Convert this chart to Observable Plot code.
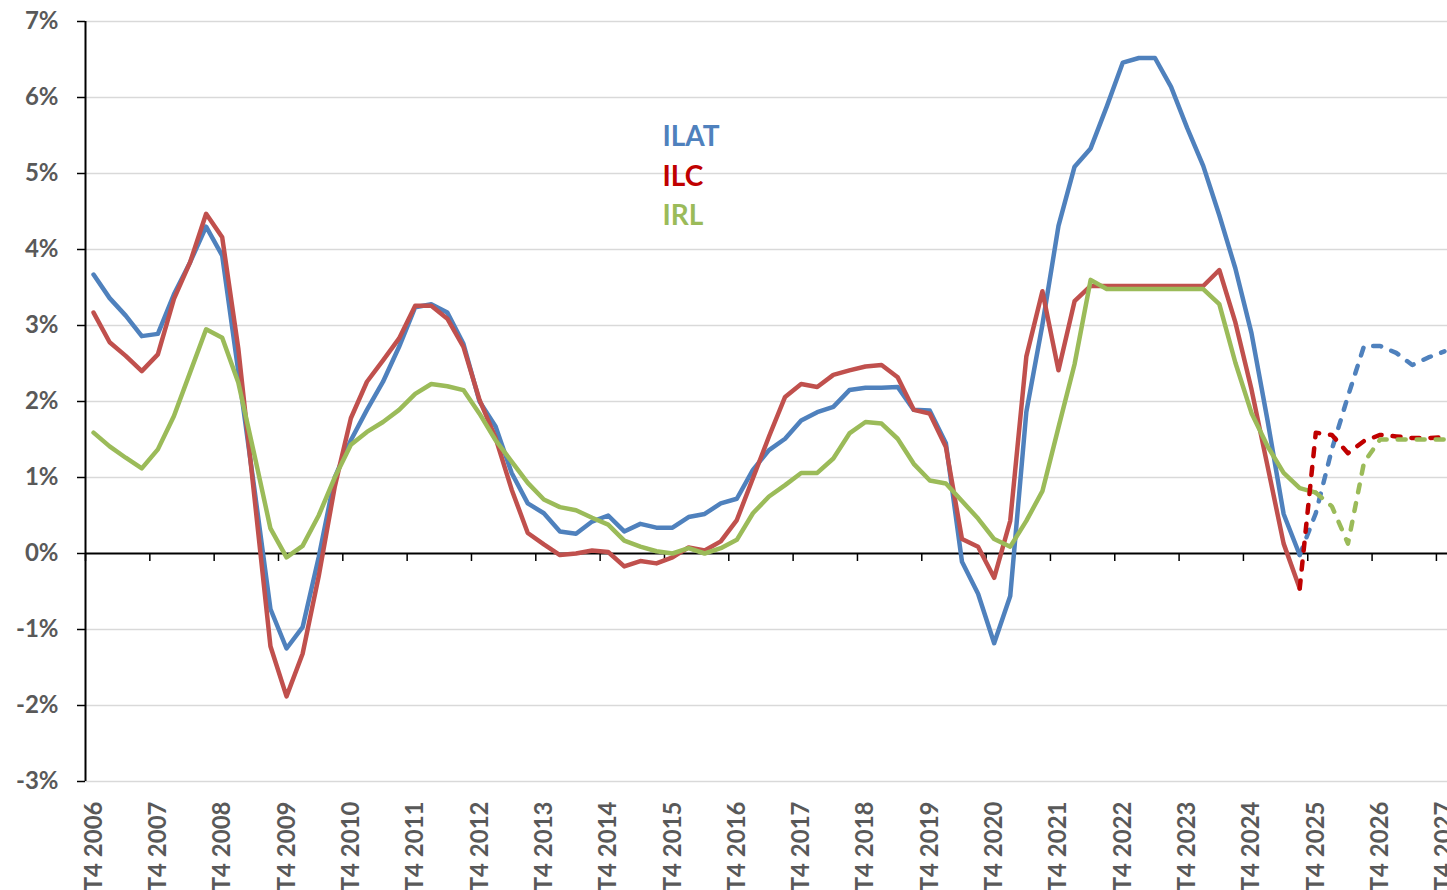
<!DOCTYPE html>
<html>
<head>
<meta charset="utf-8">
<script src="https://cdn.jsdelivr.net/npm/d3@7"></script>
<script src="https://cdn.jsdelivr.net/npm/@observablehq/plot@0.6"></script>
<style>
  html, body { margin: 0; padding: 0; overflow: hidden; background: #fff; }
  #chart { width: 1460px; }
</style>
</head>
<body>
<div id="chart"></div>
<script>
// ---- Categories (quarters, T4 2006 ... T4 2027) ----
const quarters = ["T4 2006"];
for (let y = 2007; y <= 2027; y++) for (let q = 1; q <= 4; q++) quarters.push(`T${q} ${y}`);

// ---- Tick labels ----
const tickLabels = ["T4 2006","T4 2007","T4 2008","T4 2009","T4 2010","T4 2011","T4 2012",
  "T4 2013","T4 2014","T4 2015","T4 2016","T4 2017","T4 2018","T4 2019","T4 2020","T4 2021",
  "T4 2022","T4 2023","T4 2024","T4 2025","T4 2026","T4 2027"];
const yTicks = [-3, -2, -1, 0, 1, 2, 3, 4, 5, 6, 7];

// ---- Series (% y/y), observed, starting at T4 2006 ----
const ilat = [3.67,3.36,3.13,2.86,2.89,3.41,3.83,4.30,3.92,2.40,
  0.85,-0.73,-1.25,-0.97,-0.05,1.00,1.49,1.89,2.26,2.72,
  3.24,3.28,3.17,2.76,2.00,1.67,1.06,0.66,0.53,0.29,
  0.26,0.42,0.50,0.29,0.39,0.34,0.34,0.48,0.52,0.66,
  0.72,1.10,1.36,1.51,1.75,1.86,1.93,2.15,2.18,2.18,
  2.19,1.89,1.88,1.45,-0.11,-0.53,-1.18,-0.56,1.86,3.01,
  4.31,5.09,5.33,5.88,6.46,6.52,6.52,6.14,5.60,5.10,
  4.45,3.75,2.90,1.75,0.52,-0.02];
const ilc = [3.17,2.78,2.60,2.40,2.62,3.35,3.83,4.47,4.16,2.70,
  0.75,-1.22,-1.88,-1.32,-0.30,0.88,1.78,2.26,2.54,2.83,
  3.26,3.26,3.09,2.72,2.02,1.52,0.84,0.27,0.12,-0.02,
  0.00,0.04,0.02,-0.17,-0.10,-0.13,-0.05,0.08,0.04,0.16,
  0.44,0.99,1.54,2.06,2.23,2.19,2.35,2.41,2.46,2.48,
  2.32,1.89,1.84,1.40,0.19,0.09,-0.32,0.43,2.59,3.45,
  2.41,3.32,3.52,3.52,3.52,3.52,3.52,3.52,3.52,3.52,
  3.73,3.04,2.16,1.15,0.13,-0.46];
const irl = [1.59,1.41,1.26,1.12,1.37,1.81,2.38,2.95,2.84,2.25,
  1.30,0.33,-0.05,0.10,0.50,1.00,1.43,1.60,1.73,1.89,
  2.10,2.23,2.20,2.15,1.84,1.49,1.21,0.93,0.71,0.61,
  0.57,0.47,0.38,0.17,0.09,0.03,0.00,0.07,0.00,0.07,
  0.18,0.53,0.75,0.90,1.06,1.06,1.25,1.58,1.73,1.71,
  1.51,1.18,0.96,0.92,0.69,0.46,0.19,0.09,0.43,0.82,
  1.66,2.49,3.60,3.48,3.48,3.48,3.48,3.48,3.48,3.48,
  3.28,2.51,1.85,1.41,1.06,0.86,0.80];

// ---- Forecasts (dashed) ----
const ilatForecastStart = "T3 2025";
const ilatForecast = [-0.02,0.53,1.37,2.07,2.73,2.73,2.64,2.48,2.58,2.66];
const ilcForecastStart = "T3 2025";
const ilcForecast = [-0.46,1.59,1.56,1.32,1.48,1.56,1.54,1.52,1.52,1.53];
const irlForecastStart = "T4 2025";
const irlForecast = [0.80,0.62,0.13,1.20,1.50,1.50,1.50,1.50,1.50];

// ---- Legend ----
const legendLabels = ["ILAT", "ILC", "IRL"];
const legendColors = ["#4F81BD", "#C00000", "#9BBB59"];

// ---- Build tables ----
const idx = q => quarters.indexOf(q);
const rows = (arr, start) => arr.map((v, k) => ({i: start + k, v}));
const ilatRows = rows(ilat, 0), ilcRows = rows(ilc, 0), irlRows = rows(irl, 0);
const ilatF = rows(ilatForecast, idx(ilatForecastStart));
const ilcF = rows(ilcForecast, idx(ilcForecastStart));
const irlF = rows(irlForecast, idx(irlForecastStart));
const tickBounds = tickLabels.map(d => idx(d) - 0.5);

const lw = 4.5;
const solid = (data, color) => Plot.line(data, {x: "i", y: "v", stroke: color, strokeWidth: lw,
  strokeLinejoin: "round", strokeLinecap: "round"});
const dashed = (data, color) => Plot.line(data, {x: "i", y: "v", stroke: color, strokeWidth: lw,
  strokeLinejoin: "round", strokeLinecap: "round", strokeDasharray: "8,11"});

const chart = Plot.plot({
  width: 1452,
  height: 920,
  marginLeft: 85,
  marginRight: 0,
  marginTop: 21,
  marginBottom: 139,
  x: {domain: [-0.5, quarters.length - 0.5], axis: null},
  y: {domain: [-3, 7], axis: null},
  style: {fontFamily: "Lato, 'Open Sans', sans-serif", background: "#fff", overflow: "hidden"},
  marks: [
    Plot.ruleY(yTicks.filter(d => d !== 0), {stroke: "#d9d9d9", strokeWidth: 1.5}),
    Plot.axisY({ticks: yTicks, label: null, tickSize: 8, tickPadding: 19, tickFormat: d => `${d}%`,
      fontSize: 24, fontWeight: "bold", fill: "#595959", stroke: "#000", strokeWidth: 1.5}),
    Plot.ruleX([-0.5], {stroke: "#000", strokeWidth: 2}),
    Plot.ruleY([0], {stroke: "#000", strokeWidth: 2}),
    Plot.ruleX(tickBounds, {x: d => d, y1: 0, y2: 0, insetBottom: -8, stroke: "#000", strokeWidth: 1.5}),
    Plot.text(tickLabels, {x: d => idx(d), text: d => d, frameAnchor: "bottom", rotate: -90,
      textAnchor: "end", dy: 20, dx: 8, fontSize: 24, fontWeight: "bold", fill: "#595959"}),
    solid(ilatRows, "#4F81BD"),
    solid(ilcRows, "#C0504D"),
    solid(irlRows, "#9BBB59"),
    dashed(ilatF, "#4F81BD"),
    dashed(ilcF, "#C00000"),
    dashed(irlF, "#9BBB59"),
    ...legendLabels.map((t, k) => Plot.text([t], {frameAnchor: "top-left", dx: 577, dy: 105 + 39.5 * k,
      text: d => d, fill: legendColors[k], fontSize: 28, fontWeight: "bold",
      textAnchor: "start", lineAnchor: "top"}))
  ]
});
document.getElementById("chart").append(chart);
</script>
</body>
</html>
